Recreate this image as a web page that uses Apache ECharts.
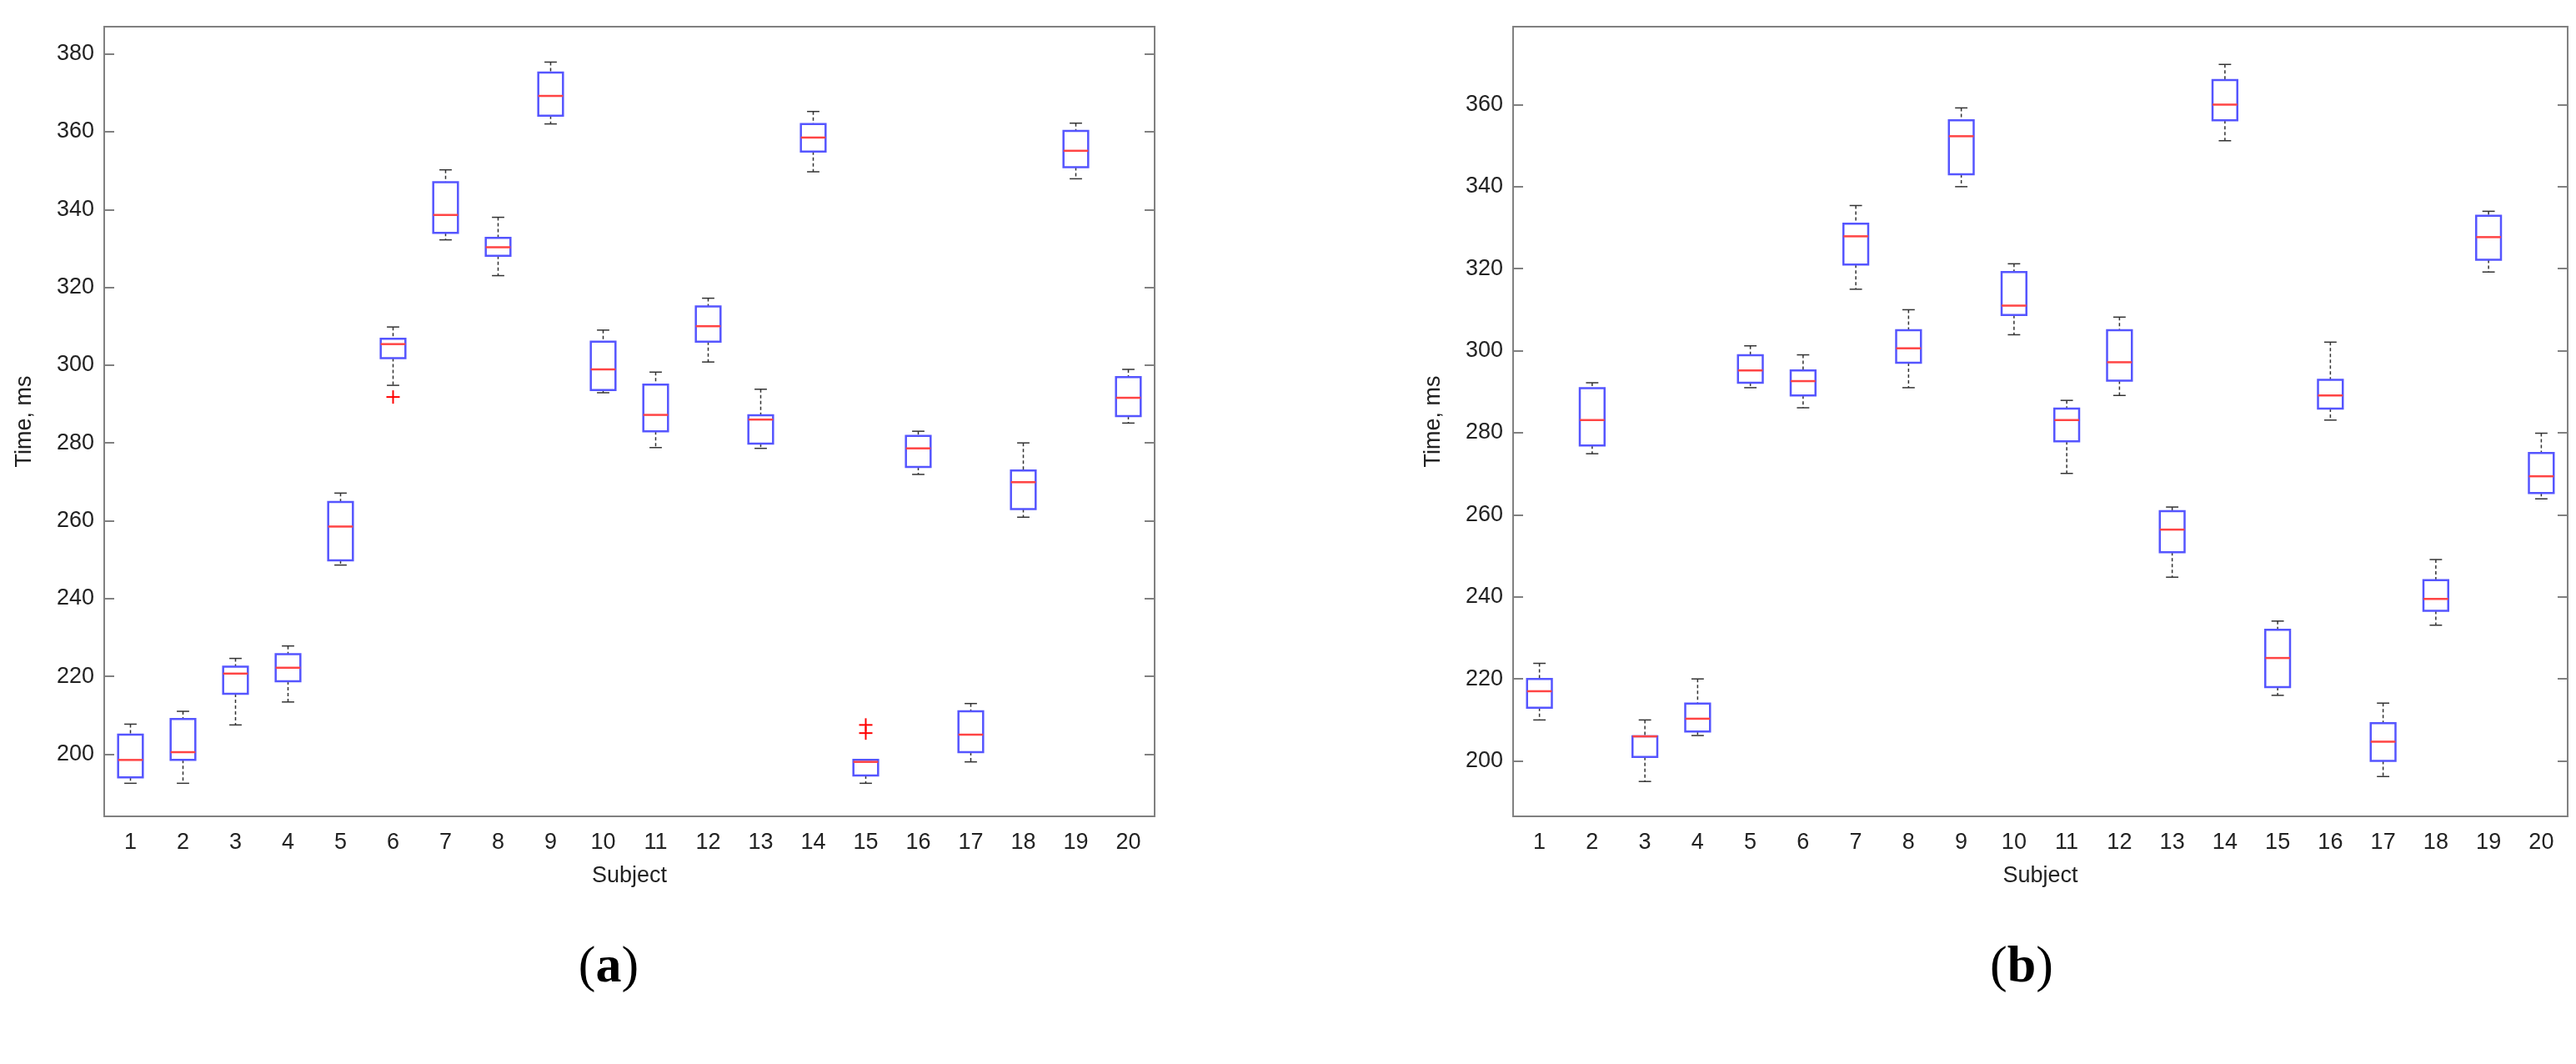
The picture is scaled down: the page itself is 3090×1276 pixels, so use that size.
<!DOCTYPE html>
<html>
<head>
<meta charset="utf-8">
<script src="https://cdn.jsdelivr.net/npm/echarts@6/dist/echarts.min.js"></script>
<style>
  html, body { margin: 0; padding: 0; background: #fff; }
  #main { width: 3090px; height: 1276px; }
</style>
</head>
<body>
<div id="main"></div>
<script>
const subjects = ["1","2","3","4","5","6","7","8","9","10","11","12","13","14","15","16","17","18","19","20"];
const ticksA = [200, 220, 240, 260, 280, 300, 320, 340, 360, 380];
const ticksB = [200, 220, 240, 260, 280, 300, 320, 340, 360];

// [min, q1, median, q3, max]
const boxesA = [
  [192.5, 194, 198.5, 205, 207.7],
  [192.5, 198.5, 200.5, 209, 211],
  [207.5, 215.5, 220.7, 222.5, 224.6],
  [213.4, 218.7, 222.2, 225.7, 227.8],
  [248.6, 249.8, 258.5, 264.8, 267.1],
  [294.8, 301.8, 305.4, 306.8, 309.8],
  [332.2, 334, 338.6, 347, 350.2],
  [323, 328.1, 330.3, 332.7, 338],
  [362, 364.1, 369.2, 375.2, 377.9],
  [292.9, 293.6, 298.9, 306, 309],
  [278.8, 283, 287.2, 295, 298.2],
  [300.8, 306, 310, 315.1, 317.2],
  [278.6, 279.8, 286, 287.1, 293.8],
  [349.7, 354.9, 358.5, 362, 365.2],
  [192.5, 194.5, 198, 198.5, 198.5],
  [271.9, 273.8, 278.6, 281.8, 283],
  [198, 200.5, 205, 211, 213],
  [260.9, 263, 269.9, 272.9, 280],
  [347.9, 350.9, 355.1, 360.2, 362.2],
  [285.1, 286.9, 291.6, 296.9, 298.9]
];
// [subject index, value]
const outliersA = [[5, 291.8], [14, 207.5], [14, 205.4]];

const boxesB = [
  [210, 213, 217, 220, 223.8],
  [274.9, 276.9, 283.1, 290.9, 292.2],
  [195, 201, 206, 206, 210],
  [206.2, 207.2, 210.3, 214, 220],
  [291, 292.2, 295.2, 298.9, 301.2],
  [286.1, 289.1, 292.6, 295.2, 299],
  [315, 321, 327.9, 331, 335.4],
  [291, 297.1, 300.6, 305, 310],
  [340, 343, 352.3, 356.2, 359.2],
  [303.9, 308.7, 311, 319.2, 321.2],
  [270.1, 277.9, 283.1, 285.9, 287.9],
  [289.1, 292.7, 297.2, 305, 308.2],
  [244.8, 250.9, 256.4, 260.9, 261.9],
  [351.2, 356.2, 360, 366, 369.8],
  [216, 218, 225.1, 232, 234.1],
  [283.1, 285.9, 289.1, 292.9, 302.1],
  [196.2, 200, 204.7, 209.2, 214.1],
  [233.1, 236.6, 239.5, 244.1, 249.1],
  [319.2, 322.2, 327.7, 332.9, 334],
  [263.9, 265.3, 269.4, 275.1, 279.9]
];
const outliersB = [];

const font = "Liberation Sans";
const axisGrey = "#808080";

function renderBox(params, api) {
  const i = api.value(0);
  const lo = api.coord([i, api.value(1)]);
  const q1 = api.coord([i, api.value(2)]);
  const md = api.coord([i, api.value(3)]);
  const q3 = api.coord([i, api.value(4)]);
  const hi = api.coord([i, api.value(5)]);
  const bw = api.size([1, 0])[0] * 0.47;
  const cw = bw * 0.5;
  const x = lo[0];
  const dash = { stroke: "#333", lineWidth: 1.5, lineDash: [4, 3] };
  const solid = { stroke: "#333", lineWidth: 1.5 };
  return {
    type: "group",
    children: [
      { type: "line", shape: { x1: x, y1: hi[1], x2: x, y2: q3[1] }, style: dash },
      { type: "line", shape: { x1: x, y1: q1[1], x2: x, y2: lo[1] }, style: dash },
      { type: "line", shape: { x1: x - cw / 2, y1: hi[1], x2: x + cw / 2, y2: hi[1] }, style: solid },
      { type: "line", shape: { x1: x - cw / 2, y1: lo[1], x2: x + cw / 2, y2: lo[1] }, style: solid },
      { type: "rect", shape: { x: x - bw / 2, y: q3[1], width: bw, height: q1[1] - q3[1] },
        style: { fill: "none", stroke: "#5555ff", lineWidth: 2.5 } },
      { type: "line", shape: { x1: x - bw / 2, y1: md[1], x2: x + bw / 2, y2: md[1] },
        style: { stroke: "#ff4444", lineWidth: 2.5 } }
    ]
  };
}

function renderPlus(params, api) {
  const p = api.coord([api.value(0), api.value(1)]);
  const s = 8;
  const st = { stroke: "#ff0000", lineWidth: 2 };
  return {
    type: "group",
    children: [
      { type: "line", shape: { x1: p[0] - s, y1: p[1], x2: p[0] + s, y2: p[1] }, style: st },
      { type: "line", shape: { x1: p[0], y1: p[1] - s, x2: p[0], y2: p[1] + s }, style: st }
    ]
  };
}

function boxData(boxes) {
  return boxes.map((b, i) => [i].concat(b));
}

const grids = [
  { left: 125, width: 1260, top: 32, height: 947, show: true, borderColor: axisGrey, borderWidth: 2 },
  { left: 1815, width: 1265, top: 32, height: 947, show: true, borderColor: axisGrey, borderWidth: 2 }
];

function xAx(g) {
  return {
    type: "category", gridIndex: g, data: subjects,
    name: "Subject", nameLocation: "middle", nameGap: 58,
    nameTextStyle: { fontFamily: font, fontSize: 27, color: "#222" },
    axisLine: { lineStyle: { color: axisGrey, width: 2 } },
    axisTick: { show: false },
    axisLabel: { fontFamily: font, fontSize: 27, color: "#222", margin: 18 },
    splitLine: { show: false }
  };
}

function yAx(g, min, max, ticks, pos) {
  const main = pos === "left";
  return {
    type: "value", gridIndex: g, min: min, max: max, position: pos,
    name: main ? "Time, ms" : "", nameLocation: "middle", nameGap: 82,
    nameTextStyle: { fontFamily: font, fontSize: 27, color: "#222" },
    axisLine: { show: true, lineStyle: { color: axisGrey, width: 2 } },
    axisTick: { show: true, inside: true, length: 12, customValues: ticks,
      lineStyle: { color: axisGrey, width: 2 } },
    axisLabel: { show: main, customValues: ticks, fontFamily: font, fontSize: 27,
      color: "#222", margin: 12 },
    splitLine: { show: false }
  };
}

const chart = echarts.init(document.getElementById("main"), null, { renderer: "canvas" });
chart.setOption({
  backgroundColor: "#fff",
  animation: false,
  grid: grids,
  xAxis: [xAx(0), xAx(1)],
  yAxis: [
    yAx(0, 184, 387, ticksA, "left"), yAx(0, 184, 387, ticksA, "right"),
    yAx(1, 186.5, 379, ticksB, "left"), yAx(1, 186.5, 379, ticksB, "right")
  ],
  title: [
    { text: "({b|a})", left: 725, top: 1125, textAlign: "center",
      textStyle: { fontFamily: "Liberation Serif", fontSize: 62, fontWeight: "normal", color: "#000",
        rich: { b: { fontFamily: "Liberation Serif", fontSize: 62, fontWeight: "bold", color: "#000" } } } },
    { text: "({b|b})", left: 2420, top: 1125, textAlign: "center",
      textStyle: { fontFamily: "Liberation Serif", fontSize: 62, fontWeight: "normal", color: "#000",
        rich: { b: { fontFamily: "Liberation Serif", fontSize: 62, fontWeight: "bold", color: "#000" } } } }
  ],
  series: [
    { type: "custom", xAxisIndex: 0, yAxisIndex: 0, renderItem: renderBox, data: boxData(boxesA),
      encode: { x: 0, y: [1, 2, 3, 4, 5] } },
    { type: "custom", xAxisIndex: 0, yAxisIndex: 0, renderItem: renderPlus, data: outliersA,
      encode: { x: 0, y: 1 } },
    { type: "custom", xAxisIndex: 1, yAxisIndex: 2, renderItem: renderBox, data: boxData(boxesB),
      encode: { x: 0, y: [1, 2, 3, 4, 5] } },
    { type: "custom", xAxisIndex: 1, yAxisIndex: 2, renderItem: renderPlus, data: outliersB,
      encode: { x: 0, y: 1 } }
  ]
});
</script>
</body>
</html>
